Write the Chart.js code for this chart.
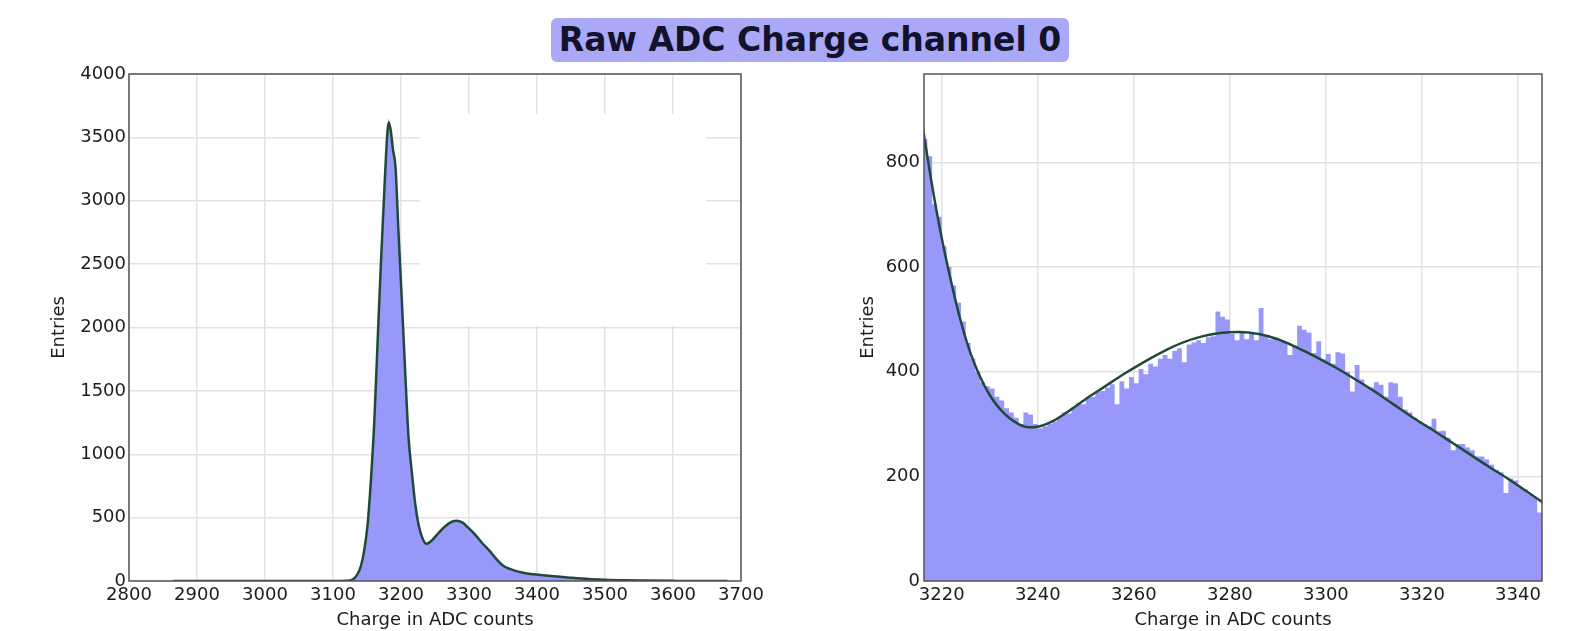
<!DOCTYPE html>
<html>
<head>
<meta charset="utf-8">
<script src="https://cdn.jsdelivr.net/npm/chart.js@4.4.1/dist/chart.umd.min.js"></script>
<style>
    html, body { margin: 0; padding: 0; background: #fff; }
    body { width: 1589px; height: 631px; position: relative; overflow: hidden; font-family: 'DejaVu Sans', sans-serif; }
    #title {
        position: absolute; left: 551px; top: 18px; width: 518px; height: 44px;
        background: #a9a9f8; border-radius: 6px;
        font: bold 33px 'DejaVu Sans', sans-serif; color: #12122a;
        text-align: center; line-height: 44px;
    }
    #left-wrap { position: absolute; left: 0; top: 0; width: 790px; height: 631px; }
    #right-wrap { position: absolute; left: 800px; top: 0; width: 789px; height: 631px; }
</style>
</head>
<body>
<div id="title">Raw ADC Charge channel 0</div>
<div id="left-wrap"><canvas id="leftChart" width="790" height="631"></canvas></div>
<div id="right-wrap"><canvas id="rightChart" width="789" height="631"></canvas></div>
<script>
// ---- left panel: full spectrum ----
const leftXTicks = [2800, 2900, 3000, 3100, 3200, 3300, 3400, 3500, 3600, 3700];
const leftYTicks = [0, 500, 1000, 1500, 2000, 2500, 3000, 3500, 4000];

const leftHistX = [3120, 3126, 3132, 3137, 3141, 3146, 3151, 3156, 3161, 3166, 3171, 3176, 3180, 3182, 3185, 3188, 3192, 3196, 3201, 3206, 3211, 3216, 3221, 3226, 3231, 3236, 3241, 3246, 3251, 3256, 3261, 3266, 3271, 3276, 3281, 3286, 3291, 3296, 3301, 3306, 3311, 3316, 3321, 3326, 3331, 3336, 3341, 3346, 3351, 3360, 3371, 3385, 3405, 3425, 3445, 3465, 3480, 3500, 3530, 3560, 3600, 3640];
const leftHist  = [0, 5, 25, 70, 120, 250, 456, 820, 1300, 1950, 2580, 3150, 3550, 3645, 3560, 3420, 3270, 2800, 2250, 1680, 1150, 860, 610, 440, 345, 297, 300, 325, 355, 385, 412, 440, 460, 470, 475, 470, 455, 435, 415, 385, 350, 320, 290, 258, 225, 198, 168, 145, 118, 95, 76, 60, 48, 37, 28, 19, 14, 9, 5, 3, 1, 0];

const leftFitX = [2865, 3000, 3100, 3120, 3128, 3135, 3141, 3146, 3151, 3156, 3161, 3166, 3171, 3176, 3180, 3182, 3185, 3188, 3192, 3196, 3201, 3206, 3211, 3216, 3221, 3226, 3231, 3237, 3245, 3255, 3265, 3275, 3282, 3290, 3300, 3310, 3320, 3330, 3340, 3351, 3360, 3371, 3385, 3405, 3425, 3445, 3465, 3480, 3500, 3530, 3560, 3600, 3640, 3680];
const leftFit  = [0, 0, 0, 2, 10, 45, 118, 245, 450, 815, 1290, 1940, 2570, 3140, 3540, 3620, 3550, 3410, 3260, 2790, 2240, 1670, 1140, 855, 605, 440, 345, 294, 318, 378, 432, 468, 476, 462, 415, 360, 296, 240, 175, 118, 95, 76, 60, 48, 37, 28, 19, 14, 9, 5, 3, 1, 0, 0];

// ---- right panel: zoom on the second bump, 1 ADC count bins ----
const rightXTicks = [3220, 3240, 3260, 3280, 3300, 3320, 3340];
const rightYTicks = [0, 200, 400, 600, 800];
const rightFirstBin = 3216;
const rightHist = [
    845, 812, 720, 696, 640, 600, 565, 532, 496, 455,
    425, 400, 380, 372, 368, 352, 345, 330, 322, 312,
    300, 322, 318, 300, 292, 296, 300, 305, 312, 322,
    320, 332, 340, 338, 350, 352, 362, 363, 370, 376,
    338, 382, 368, 390, 378, 405, 395, 415, 410, 425,
    432, 425, 440, 445, 418, 452, 456, 460, 455, 466,
    468, 515, 505, 500, 472, 460, 474, 462, 472, 460,
    522, 470, 462, 465, 458, 457, 432, 450, 488, 480,
    475, 436, 458, 424, 434, 415, 437, 435, 400, 362,
    413, 385, 372, 370, 380, 375, 352, 380, 378, 352,
    328, 322, 312, 306, 300, 296, 310, 286, 287, 274,
    250, 262, 262, 255, 250, 238, 238, 232, 222, 212,
    208, 168, 196, 192, 180, 176, 166, 160, 131
];
const rightFitX = [3216, 3218, 3220, 3222, 3224, 3226, 3228, 3230, 3232, 3234, 3236, 3238, 3240, 3243, 3246, 3250, 3254, 3258, 3262, 3266, 3270, 3274, 3278, 3282, 3286, 3290, 3294, 3298, 3302, 3306, 3310, 3314, 3318, 3322, 3326, 3330, 3334, 3338, 3342, 3345.5];
const rightFit  = [870, 755, 655, 570, 495, 435, 390, 355, 330, 312, 300, 294, 295, 305, 322, 348, 372, 396, 418, 438, 455, 467, 474, 476, 472, 462, 446, 428, 408, 386, 363, 338, 313, 290, 266, 242, 218, 195, 170, 148];

const FILL = '#9898fb';
const FIT = '#1f4a3a';
const FONT = "'DejaVu Sans', sans-serif";
const TEXT = '#1c1c1c';

// draws the axes box on all four sides
const framePlugin = {
    id: 'frame',
    afterDatasetsDraw(chart) {
        const { ctx, chartArea: a } = chart;
        ctx.save();
        ctx.strokeStyle = '#555';
        ctx.lineWidth = 1.5;
        ctx.strokeRect(a.left, a.top, a.right - a.left, a.bottom - a.top);
        ctx.restore();
    }
};

// empty white legend box in the left panel
const blankBoxPlugin = {
    id: 'blankBox',
    beforeDatasetsDraw(chart, args, opts) {
        if (!opts.box) return;
        const { ctx, scales: { x, y } } = chart;
        const [x0, y0, x1, y1] = opts.box;
        ctx.save();
        ctx.fillStyle = '#fff';
        ctx.fillRect(x.getPixelForValue(x0), y.getPixelForValue(y1),
            x.getPixelForValue(x1) - x.getPixelForValue(x0),
            y.getPixelForValue(y0) - y.getPixelForValue(y1));
        ctx.restore();
    }
};

function points(xs, ys) {
    return xs.map((x, i) => ({ x: x, y: ys[i] }));
}

function makeOptions(cfg) {
    return {
        responsive: false,
        animation: false,
        events: [],
        layout: { padding: { left: 0, top: 74, right: cfg.padRight, bottom: 0 } },
        plugins: {
            legend: { display: false },
            tooltip: { enabled: false },
            blankBox: { box: cfg.box || null }
        },
        scales: {
            x: {
                type: 'linear',
                min: cfg.xMin,
                max: cfg.xMax,
                afterFit: s => { s.height = 50; },
                afterBuildTicks: s => { s.ticks = cfg.xTicks.map(v => ({ value: v })); },
                grid: { color: '#e2e2e2', lineWidth: 1.5, drawTicks: false },
                border: { display: false },
                ticks: {
                    padding: 4, color: TEXT, maxRotation: 0, autoSkip: false,
                    font: { family: FONT, size: 18 },
                    callback: v => String(v)
                },
                title: { display: true, text: 'Charge in ADC counts', color: TEXT, padding: { top: 0, bottom: 0 }, font: { family: FONT, size: 18 } }
            },
            y: {
                min: 0,
                max: cfg.yMax,
                afterFit: s => { s.width = cfg.yWidth; },
                afterBuildTicks: s => { s.ticks = cfg.yTicks.map(v => ({ value: v })); },
                grid: { color: '#e2e2e2', lineWidth: 1.5, drawTicks: false },
                border: { display: false },
                ticks: {
                    padding: cfg.yPad, color: TEXT,
                    font: { family: FONT, size: 18 },
                    callback: v => String(v)
                },
                title: { display: true, text: 'Entries', color: TEXT, padding: { top: cfg.titleOff, bottom: 0 }, font: { family: FONT, size: 18 } }
            }
        }
    };
}

new Chart(document.getElementById('leftChart'), {
    type: 'line',
    data: {
        datasets: [
            {
                label: 'fit',
                data: points(leftFitX, leftFit),
                borderColor: FIT,
                borderWidth: 2.5,
                pointRadius: 0,
                fill: false,
                cubicInterpolationMode: 'monotone'
            },
            {
                label: 'hist',
                data: points(leftHistX, leftHist),
                borderWidth: 0,
                borderColor: FILL,
                backgroundColor: FILL,
                pointRadius: 0,
                fill: 'origin',
                cubicInterpolationMode: 'monotone'
            }
        ]
    },
    options: makeOptions({
        xMin: 2800, xMax: 3700, yMax: 4000,
        xTicks: leftXTicks, yTicks: leftYTicks,
        yWidth: 129, padRight: 49, yPad: 3, titleOff: 49,
        box: [3228, 2012, 3649, 3684]
    }),
    plugins: [blankBoxPlugin, framePlugin]
});

const rightHistPts = points(rightHist.map((v, i) => rightFirstBin + i), rightHist);
rightHistPts.push({ x: rightFirstBin + rightHist.length, y: rightHist[rightHist.length - 1] });

new Chart(document.getElementById('rightChart'), {
    type: 'line',
    data: {
        datasets: [
            {
                label: 'fit',
                data: points(rightFitX, rightFit),
                borderColor: FIT,
                borderWidth: 2.5,
                pointRadius: 0,
                fill: false,
                cubicInterpolationMode: 'monotone'
            },
            {
                label: 'hist',
                data: rightHistPts,
                stepped: true,
                borderWidth: 0,
                borderColor: FILL,
                backgroundColor: FILL,
                pointRadius: 0,
                fill: 'origin'
            }
        ]
    },
    options: makeOptions({
        xMin: 3216.3, xMax: 3345, yMax: 969,
        xTicks: rightXTicks, yTicks: rightYTicks,
        yWidth: 124, padRight: 47, yPad: 4, titleOff: 58
    }),
    plugins: [blankBoxPlugin, framePlugin]
});
</script>
</body>
</html>
